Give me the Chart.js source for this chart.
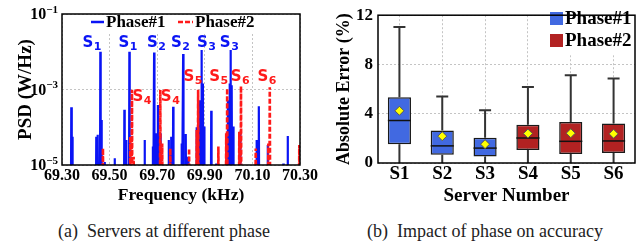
<!DOCTYPE html>
<html>
<head>
<meta charset="utf-8">
<script src="https://cdn.jsdelivr.net/npm/chart.js@4.4.1/dist/chart.umd.min.js"></script>
<style>
  body { margin: 0; background: #fff; }
  #wrap { position: relative; width: 642px; height: 245px; overflow: hidden; }
  canvas { position: absolute; top: 0; }
  .cap { position: absolute; top: 221px; width: 300px; text-align: center; font: 18px 'Liberation Serif', serif; color: #222; line-height: 20px; white-space: nowrap; }
</style>
</head>
<body>
<div id="wrap">
  <canvas id="psd" width="320" height="210" style="left:0"></canvas>
  <canvas id="err" width="322" height="210" style="left:320px"></canvas>
  <div class="cap" style="left:14px">(a)&nbsp; Servers at different phase</div>
  <div class="cap" style="left:335px">(b)&nbsp; Impact of phase on accuracy</div>
</div>
<script>
const SERIF = "'Liberation Serif', 'DejaVu Serif', serif";
const SANS = "'DejaVu Sans', sans-serif";

// (a) spectrum peaks: frequency (kHz) and PSD (W/Hz)
const phase1Freq = [69.339, 69.343, 69.444, 69.450, 69.461, 69.466, 69.479, 69.521, 69.562, 69.569,
  69.583, 69.647, 69.682, 69.687, 69.696, 69.703, 69.713, 69.748, 69.759, 69.767,
  69.803, 69.809, 69.820, 69.830, 69.866, 69.878, 69.886, 69.892, 69.897, 69.927,
  69.948, 69.997, 70.004, 70.008, 70.013, 70.020, 70.048, 70.118, 70.127, 70.164,
  70.230, 70.248];
const phase1Psd = [3.4e-4, 5.6e-5, 5.6e-5, 6.3e-5, 1.0e-2, 1.55e-4, 1.2e-5, 1.5e-5, 2.9e-4, 4.6e-5,
  1.0e-2, 4.6e-5, 3.1e-5, 9.5e-3, 6.9e-5, 3.9e-4, 6.9e-5, 4.6e-5, 5.6e-5, 3.5e-4,
  3.7e-5, 8.7e-3, 6.6e-5, 1.66e-5, 1.0e-4, 5.2e-4, 1.12e-2, 1.45e-3, 1.05e-4, 2.75e-4,
  1.1e-5, 5.2e-4, 1.45e-3, 1.12e-2, 1.3e-3, 1.05e-4, 7.6e-5, 4.6e-5, 3.6e-4, 3.4e-5,
  1.1e-5, 5.9e-5];
const phase2Freq = [69.472, 69.587, 69.594, 69.601, 69.713, 69.721, 69.755, 69.834, 69.866, 69.872,
  69.957, 69.990, 69.994, 70.045, 70.052, 70.114, 70.167, 70.173, 70.297];
const phase2Psd = [2.75e-5, 5.6e-5, 9.8e-4, 1.66e-5, 9.8e-4, 3.7e-5, 2.75e-5, 2.75e-5, 8.5e-5, 9.8e-4,
  3.1e-5, 6.9e-5, 1.07e-3, 7.6e-5, 1.23e-3, 2.75e-5, 3.7e-5, 1.15e-3, 3.4e-5];
const noiseFloor = 1e-6; // below the visible axis

const freqTicks = [69.30, 69.50, 69.70, 69.90, 70.10, 70.30];
const psdTicks = [1e-1, 1e-3, 1e-5];
const psdTickExp = ['\u22121', '\u22123', '\u22125'];

// server labels above the peaks
const peakServer = [1, 1, 2, 2, 3, 3, 4, 4, 5, 5, 6, 6];
const peakLabelFreq = [69.425, 69.576, 69.696, 69.797, 69.906, 70.002, 69.635, 69.754, 69.849, 69.957, 70.048, 70.160];
const peakLabelPsd = [1.7e-2, 1.7e-2, 1.7e-2, 1.7e-2, 1.7e-2, 1.7e-2, 6.3e-4, 6.3e-4, 2.1e-3, 2.1e-3, 2.1e-3, 2.1e-3];

// (b) absolute error box plots (%)
const servers = ['S1', 'S2', 'S3', 'S4', 'S5', 'S6'];
const serverPhase = [1, 1, 1, 2, 2, 2];
const errMin = [0, 0, 0, 0, 0, 0];
const errQ1 = [1.53, 0.66, 0.53, 1.05, 0.74, 0.82];
const errMedian = [3.45, 1.39, 1.21, 2.03, 1.76, 1.79];
const errQ3 = [5.34, 2.63, 2.05, 3.1, 3.32, 3.21];
const errMax = [11.05, 5.39, 4.29, 6.18, 7.13, 6.87];
const errMean = [4.24, 2.18, 1.53, 2.39, 2.42, 2.37];
const errTicks = [0, 4, 8, 12];

const BLUE = '#0a14f5';
const RED = '#ff1a1a';
const BOX_BLUE = '#4169e1';
const BOX_RED = '#b22222';

function spikes(freq, psd) {
  const pts = [];
  freq.forEach((f, i) => {
    pts.push({ x: f - 0.0015, y: noiseFloor }, { x: f, y: psd[i] }, { x: f + 0.0015, y: noiseFloor });
  });
  return pts;
}

function frame(chart) {
  const { ctx, chartArea: a } = chart;
  ctx.save();
  ctx.strokeStyle = '#000';
  ctx.lineWidth = 1.5;
  ctx.strokeRect(a.left, a.top, a.right - a.left, a.bottom - a.top);
  ctx.restore();
}

const psdDecor = {
  id: 'psdDecor',
  afterDraw(chart) {
    const { ctx, chartArea: a, scales: { x, y } } = chart;
    ctx.save();
    ctx.fillStyle = '#000';
    ctx.textAlign = 'right';
    ctx.textBaseline = 'middle';
    psdTicks.forEach((v, i) => {
      const py = y.getPixelForValue(v);
      ctx.font = 'bold 11px ' + SERIF;
      const sw = ctx.measureText(psdTickExp[i]).width;
      ctx.fillText(psdTickExp[i], a.left - 4, py - 4);
      ctx.font = 'bold 16px ' + SERIF;
      ctx.fillText('10', a.left - 4 - sw, py + 1);
    });

    // S labels
    ctx.textAlign = 'left';
    peakServer.forEach((s, i) => {
      const px = x.getPixelForValue(peakLabelFreq[i]);
      const py = y.getPixelForValue(peakLabelPsd[i]);
      ctx.fillStyle = s <= 3 ? BLUE : RED;
      ctx.font = 'bold 15px ' + SANS;
      const w1 = ctx.measureText('S').width;
      ctx.font = 'bold 11px ' + SANS;
      const w2 = ctx.measureText(String(s)).width;
      const left = px - (w1 + w2) / 2;
      ctx.font = 'bold 15px ' + SANS;
      ctx.fillText('S', left, py);
      ctx.font = 'bold 11px ' + SANS;
      ctx.fillText(String(s), left + w1 + 0.5, py + 4);
    });

    // legend
    ctx.fillStyle = '#fff';
    ctx.fillRect(88, a.top + 1, 175, 17);
    ctx.lineWidth = 2.5;
    ctx.strokeStyle = BLUE;
    ctx.beginPath(); ctx.moveTo(91, 22); ctx.lineTo(104, 22); ctx.stroke();
    ctx.strokeStyle = RED;
    ctx.setLineDash([5, 2]);
    ctx.beginPath(); ctx.moveTo(178, 22); ctx.lineTo(193, 22); ctx.stroke();
    ctx.setLineDash([]);
    ctx.fillStyle = '#000';
    ctx.font = 'bold 17px ' + SERIF;
    ctx.textBaseline = 'middle';
    ctx.fillText('Phase#1', 106, 23);
    ctx.fillText('Phase#2', 195, 23);
    ctx.restore();
    frame(chart);
  }
};

const gridStyle = { color: '#c4c4c4', lineWidth: 1, drawTicks: false };

new Chart(document.getElementById('psd'), {
  type: 'line',
  data: {
    datasets: [
      { label: 'Phase#1', data: spikes(phase1Freq, phase1Psd), borderColor: BLUE, borderWidth: 2.2, pointRadius: 0, order: 2 },
      { label: 'Phase#2', data: spikes(phase2Freq, phase2Psd), borderColor: RED, borderWidth: 2.6, borderDash: [5, 2], pointRadius: 0, order: 1 }
    ]
  },
  options: {
    responsive: false,
    animation: false,
    layout: { padding: { top: 14, right: 20, left: 0, bottom: 0 } },
    plugins: { legend: { display: false }, tooltip: { enabled: false } },
    scales: {
      x: {
        type: 'linear', min: 69.3, max: 70.3,
        afterBuildTicks: s => { s.ticks = freqTicks.map(v => ({ value: v })); },
        afterFit: s => { s.height = 45; },
        ticks: { callback: v => v.toFixed(2), color: '#000', font: { family: SERIF, size: 16, weight: 'bold' }, padding: 1, maxRotation: 0 },
        grid: gridStyle,
        border: { display: false, dash: [2, 2] },
        title: { display: true, text: 'Frequency (kHz)', color: '#000', font: { family: SERIF, size: 17.5, weight: 'bold' }, padding: { top: 0, bottom: 4 } }
      },
      y: {
        type: 'logarithmic', min: 1e-5, max: 1e-1,
        afterBuildTicks: s => { s.ticks = psdTicks.map(v => ({ value: v })); },
        afterFit: s => { s.width = 62; },
        ticks: { display: false },
        grid: gridStyle,
        border: { display: false, dash: [2, 2] },
        title: { display: true, text: 'PSD (W/Hz)', color: '#000', font: { family: SERIF, size: 19, weight: 'bold' }, padding: { top: 15, bottom: 0 } }
      }
    }
  },
  plugins: [psdDecor]
});

const boxDecor = {
  id: 'boxDecor',
  afterDatasetDraw(chart, args) {
    if (args.index !== 0) return;
    const { ctx, scales: { y } } = chart;
    ctx.save();
    args.meta.data.forEach((bar, i) => {
      const cx = bar.x, hw = bar.width / 2;
      ctx.strokeStyle = '#333';
      ctx.lineWidth = 2;
      ctx.beginPath();
      ctx.moveTo(cx, y.getPixelForValue(errQ3[i])); ctx.lineTo(cx, y.getPixelForValue(errMax[i]));
      ctx.moveTo(cx, y.getPixelForValue(errQ1[i])); ctx.lineTo(cx, y.getPixelForValue(errMin[i]));
      ctx.moveTo(cx - 6, y.getPixelForValue(errMax[i])); ctx.lineTo(cx + 6, y.getPixelForValue(errMax[i]));
      ctx.stroke();
      ctx.strokeStyle = '#111';
      ctx.lineWidth = 1.5;
      ctx.beginPath();
      ctx.moveTo(cx - hw, y.getPixelForValue(errMedian[i])); ctx.lineTo(cx + hw, y.getPixelForValue(errMedian[i]));
      ctx.stroke();
    });
    ctx.restore();
  },
  afterDraw(chart) {
    const { ctx, chartArea: a } = chart;
    ctx.save();
    ctx.fillStyle = '#fff';
    ctx.fillRect(a.right - 87, a.top + 1, 86, 39);
    ctx.fillStyle = BOX_BLUE;
    ctx.fillRect(230, 12, 13, 13);
    ctx.fillStyle = BOX_RED;
    ctx.fillRect(230, 34, 13, 13);
    ctx.fillStyle = '#000';
    ctx.font = 'bold 19px ' + SERIF;
    ctx.textBaseline = 'middle';
    ctx.fillText('Phase#1', 245, 19.5);
    ctx.fillText('Phase#2', 245, 41.5);
    ctx.restore();
    frame(chart);
  }
};

new Chart(document.getElementById('err'), {
  type: 'bar',
  data: {
    labels: servers,
    datasets: [
      {
        label: 'box',
        data: servers.map((_, i) => [errQ1[i], errQ3[i]]),
        backgroundColor: serverPhase.map(p => p === 1 ? BOX_BLUE : BOX_RED),
        borderColor: '#1a1a1a', borderWidth: 1.5, borderSkipped: false,
        barPercentage: 0.54, categoryPercentage: 1, order: 2
      },
      {
        type: 'line', label: 'mean', data: errMean, showLine: false,
        pointStyle: 'rectRot', pointRadius: 4.5, pointBackgroundColor: '#ffff00',
        pointBorderColor: '#555', pointBorderWidth: 1, order: 1
      }
    ]
  },
  options: {
    responsive: false,
    animation: false,
    layout: { padding: { top: 11, right: 7, left: 0, bottom: 0 } },
    plugins: { legend: { display: false }, tooltip: { enabled: false } },
    scales: {
      x: {
        afterFit: s => { s.height = 47; },
        ticks: { color: '#000', font: { family: SERIF, size: 19, weight: 'bold' }, padding: 0 },
        grid: Object.assign({ offset: false }, gridStyle),
        border: { display: false, dash: [2, 2] },
        title: { display: true, text: 'Server Number', color: '#000', font: { family: SERIF, size: 19, weight: 'bold' }, padding: { top: 0, bottom: 3 } }
      },
      y: {
        min: 0, max: 12,
        afterBuildTicks: s => { s.ticks = errTicks.map(v => ({ value: v })); },
        afterFit: s => { s.width = 58; },
        ticks: { color: '#000', font: { family: SERIF, size: 17, weight: 'bold' }, padding: 5 },
        grid: gridStyle,
        border: { display: false, dash: [2, 2] },
        title: { display: true, text: 'Absolute Error (%)', color: '#000', font: { family: SERIF, size: 18, weight: 'bold' }, padding: { top: 14, bottom: 0 } }
      }
    }
  },
  plugins: [boxDecor]
});
</script>
</body>
</html>
